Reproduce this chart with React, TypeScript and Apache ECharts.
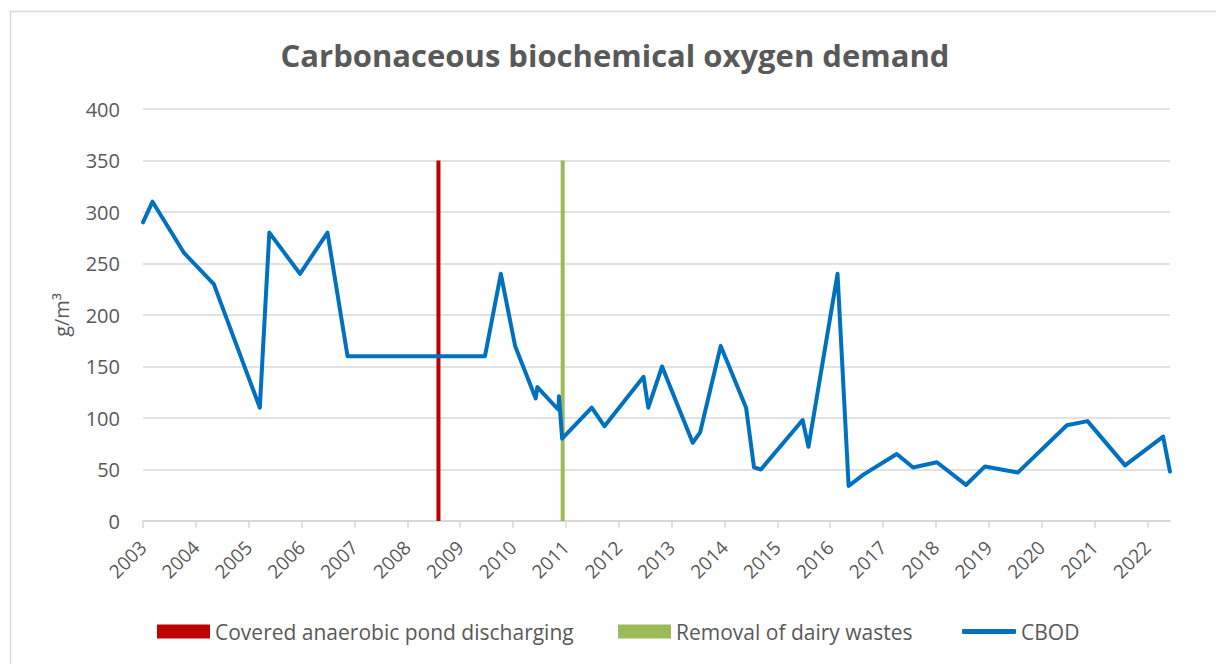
import React, { useEffect, useRef } from "react";
import * as echarts from "echarts";

const years = [2003, 2004, 2005, 2006, 2007, 2008, 2009, 2010, 2011, 2012, 2013, 2014, 2015, 2016, 2017, 2018, 2019, 2020, 2021, 2022];
const yTicks = [0, 50, 100, 150, 200, 250, 300, 350, 400];

const cbodDates = [
  2003.0, 2003.18, 2003.78, 2004.34, 2005.21, 2005.39, 2005.97, 2006.49, 2006.87, 2009.47,
  2009.77, 2010.04, 2010.43, 2010.46, 2010.86, 2010.87, 2010.93, 2011.49, 2011.73, 2012.47,
  2012.56, 2012.82, 2013.4, 2013.54, 2013.93, 2014.41, 2014.56, 2014.69, 2015.48, 2015.59,
  2016.14, 2016.35, 2016.63, 2017.26, 2017.57, 2018.02, 2018.57, 2018.93, 2019.55, 2020.48,
  2020.87, 2021.58, 2022.3, 2022.43,
];
const cbodValues = [
  290, 310, 260, 230, 110, 280, 240, 280, 160, 160,
  240, 170, 119, 130, 108, 121, 80, 110, 92, 140,
  110, 150, 76, 86, 170, 110, 52, 50, 98, 72,
  240, 34, 45, 65, 52, 57, 35, 53, 47, 93,
  97, 54, 82, 48,
];

const pondDate = 2008.59;
const dairyDate = 2010.94;
const markerRange = [0, 350];

const seriesNames = ["Covered anaerobic pond discharging", "Removal of dairy wastes", "CBOD"];

const TEXT = "#595959";
const GRID = "#D9D9D9";
const FONT = "Open Sans";

export default function App() {
  const ref = useRef<HTMLDivElement>(null);
  useEffect(() => {
    if (!ref.current) return;
    const chart = echarts.init(ref.current, undefined, { renderer: "svg" });
    const legendCommon = {
      top: 621,
      padding: 0,
      itemGap: 0,
      textStyle: { fontSize: 21, color: TEXT, fontFamily: FONT },
      selectedMode: false,
    };
    chart.setOption({
      animation: false,
      backgroundColor: "#ffffff",
      title: {
        text: "Carbonaceous biochemical oxygen demand",
        left: 610,
        textAlign: "center",
        top: 34,
        textStyle: { fontSize: 31, fontWeight: "bold", color: TEXT, fontFamily: FONT },
      },
      graphic: [
        {
          type: "rect",
          shape: { x: 10.5, y: 11.5, width: 1240, height: 700 },
          style: { fill: "none", stroke: GRID, lineWidth: 1.5 },
          silent: true,
          z: -1,
        },
      ],
      legend: [
        { ...legendCommon, left: 157, data: [{ name: seriesNames[0], icon: "rect" }], itemWidth: 53, itemHeight: 14 },
        { ...legendCommon, left: 618, data: [{ name: seriesNames[1], icon: "rect" }], itemWidth: 53, itemHeight: 14 },
        { ...legendCommon, left: 962, data: [{ name: seriesNames[2], icon: "roundRect" }], itemWidth: 54, itemHeight: 5 },
      ],
      grid: { left: 143, right: 46, top: 109, bottom: 143, containLabel: false },
      xAxis: {
        type: "value",
        min: years[0],
        max: cbodDates[cbodDates.length - 1],
        interval: 1,
        axisLine: { show: true, onZero: false, lineStyle: { color: GRID, width: 2 } },
        axisTick: { show: true, length: 7, lineStyle: { color: GRID, width: 1.5 }, customValues: years },
        axisLabel: {
          rotate: 45,
          fontSize: 19,
          color: TEXT,
          fontFamily: FONT,
          margin: 23,
          customValues: years,
          formatter: (v: number) => String(Math.round(v)),
        },
        splitLine: { show: false },
      },
      yAxis: {
        type: "value",
        min: yTicks[0],
        max: yTicks[yTicks.length - 1],
        interval: 50,
        axisLine: { show: false },
        axisTick: { show: false },
        axisLabel: { fontSize: 20, color: TEXT, fontFamily: FONT, margin: 23 },
        splitLine: { lineStyle: { color: GRID, width: 1.5 } },
        name: "g/m³",
        nameLocation: "middle",
        nameGap: 72,
        nameTextStyle: { fontSize: 20, color: TEXT, fontFamily: FONT },
      },
      series: [
        {
          name: seriesNames[0],
          type: "line",
          symbol: "none",
          data: markerRange.map((v) => [pondDate, v]),
          lineStyle: { color: "#C00000", width: 4 },
          itemStyle: { color: "#C00000" },
          z: 2,
        },
        {
          name: seriesNames[1],
          type: "line",
          symbol: "none",
          data: markerRange.map((v) => [dairyDate, v]),
          lineStyle: { color: "#9BBB59", width: 4 },
          itemStyle: { color: "#9BBB59" },
          z: 2,
        },
        {
          name: seriesNames[2],
          type: "line",
          symbol: "none",
          data: cbodDates.map((d, i) => [d, cbodValues[i]]),
          lineStyle: { color: "#0070C0", width: 4, join: "round", cap: "round" },
          itemStyle: { color: "#0070C0" },
          z: 3,
        },
      ],
    });
    return () => chart.dispose();
  }, []);
  return (
    <div
      ref={ref}
      style={{ position: "fixed", left: 0, top: 0, width: 1216, height: 664, background: "#fff" }}
    />
  );
}
